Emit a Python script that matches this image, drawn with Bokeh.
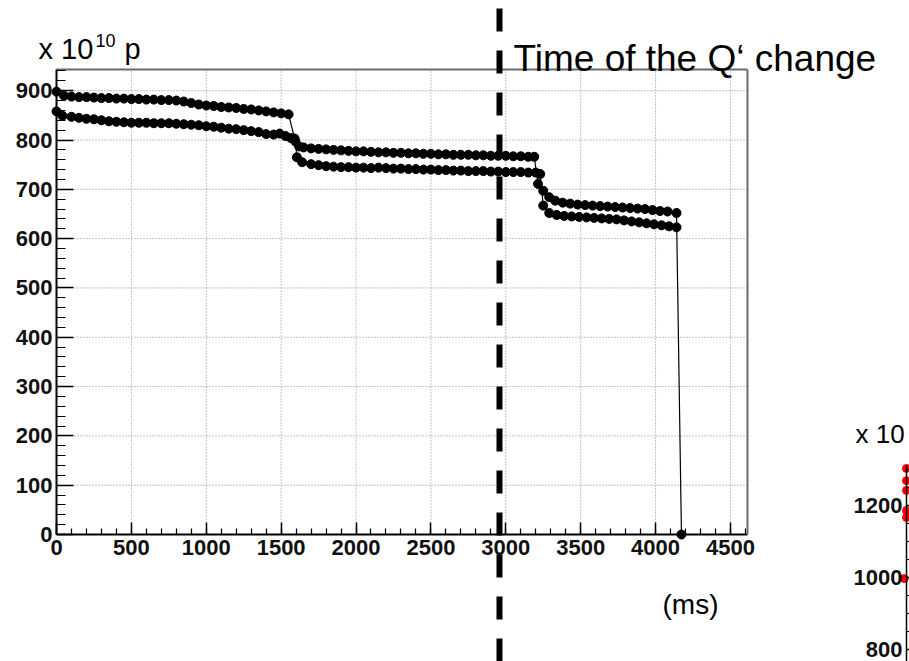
from bokeh.plotting import figure
from bokeh.models import (LinearAxis, Range1d, Label, FixedTicker,
                          SingleIntervalTicker, Span)
from bokeh.embed import file_html
from bokeh.resources import INLINE

# ---------------- data ----------------
t_upper = [0, 50, 100, 150, 200, 250, 300, 350, 400, 450, 500, 550, 600, 650, 700,
           750, 800, 850, 900, 950, 1000, 1050, 1100, 1150, 1200, 1250, 1300, 1350,
           1400, 1450, 1500, 1550, 1590, 1620, 1650, 1700, 1750, 1800, 1850, 1900,
           1950, 2000, 2050, 2100, 2150, 2200, 2250, 2300, 2350, 2400, 2450, 2500,
           2550, 2600, 2650, 2700, 2750, 2800, 2850, 2900, 2950, 3000, 3050, 3100,
           3150, 3190, 3215, 3250, 3290, 3330, 3380, 3430, 3480, 3530, 3580, 3630,
           3680, 3730, 3780, 3830, 3880, 3930, 3980, 4030, 4080, 4140, 4173]
n_upper = [898, 890, 888, 887, 887, 886, 885, 885, 884, 884, 883, 883, 882, 882, 881,
           881, 880, 878, 875, 872, 870, 869, 867, 866, 865, 863, 862, 860,
           858, 856, 854, 852, 803, 787, 785, 783, 782, 781, 780, 779,
           778, 777, 777, 776, 775, 775, 774, 774, 773, 773, 772, 772,
           771, 771, 770, 770, 770, 769, 769, 768, 768, 768, 767, 767,
           766, 766, 711, 697, 684, 677, 673, 671, 669, 668, 667, 666,
           665, 664, 663, 662, 661, 660, 658, 656, 655, 652, 0]

t_lower = [0, 40, 100, 150, 200, 250, 300, 350, 400, 450, 500, 550, 600, 650, 700,
           750, 800, 850, 900, 950, 1000, 1050, 1100, 1150, 1200, 1250, 1300, 1350,
           1400, 1450, 1490, 1530, 1565, 1595, 1605, 1640, 1700, 1750, 1800, 1850,
           1900, 1950, 2000, 2050, 2100, 2150, 2200, 2250, 2300, 2350, 2400, 2450,
           2500, 2550, 2600, 2650, 2700, 2750, 2800, 2850, 2900, 2950, 3000, 3050,
           3100, 3150, 3200, 3230, 3250, 3290, 3340, 3390, 3440, 3490, 3540, 3590,
           3640, 3690, 3740, 3790, 3840, 3890, 3940, 3990, 4040, 4090, 4140]
n_lower = [858, 849, 847, 845, 843, 842, 840, 838, 837, 836, 835, 835, 835, 834, 834,
           834, 833, 832, 831, 830, 828, 827, 825, 823, 822, 820, 818, 816,
           812, 811, 813, 808, 804, 797, 765, 755, 751, 749, 747, 746,
           745, 745, 744, 744, 743, 744, 743, 742, 742, 741, 741, 740,
           740, 739, 739, 738, 738, 737, 737, 737, 736, 736, 735, 735,
           735, 734, 734, 731, 667, 652, 648, 646, 645, 644, 643, 642,
           641, 640, 639, 637, 635, 633, 631, 629, 627, 625, 623]

x_tick_values = [0, 500, 1000, 1500, 2000, 2500, 3000, 3500, 4000, 4500]
y_tick_values = [0, 100, 200, 300, 400, 500, 600, 700, 800, 900]
q_change_time = 2958          # ms, time of the Q' change

# second (cut-off) chart on the right
t_red = [0, 0, 0, 0, 0, -15]
n_red = [1303, 1269, 1242, 1186, 1167, 997]

# axis limits of the ROOT frame
X_MAX = 4614
Y_MAX = 943

# ---------------- layout (pixels) ----------------
W, H = 909, 661
FL, FR, FT, FB = 56, 747, 69, 534      # ROOT frame edges on the page
sx = X_MAX / (FR - FL)
sy = Y_MAX / (FB - FT)


def dx(px):
    return (px - FL) * sx


def dy(py):
    return (FB - py) * sy


AX2_PX = 906                # left axis of the second chart
s2 = 400 / (649 - 505)      # 1200 at 505 px, 800 at 649 px


def dx2(px):
    return (px - AX2_PX) * sx


def dy2(py):
    return 800 + (649 - py) * s2


FONT = "Liberation Sans"

p = figure(width=W, height=H, output_backend="svg", toolbar_location=None, tools="",
           x_axis_type=None, y_axis_type=None,
           x_range=Range1d(dx(0), dx(W)), y_range=Range1d(dy(H), dy(0)),
           min_border=0, outline_line_color=None, background_fill_color="white",
           border_fill_color="white")
p.extra_x_ranges = {"x2": Range1d(dx2(0), dx2(W))}
p.extra_y_ranges = {"y2": Range1d(dy2(H), dy2(0))}

# dotted grid at the major ticks
gx = [v for v in x_tick_values if v > 0]
gy = [v for v in y_tick_values if v > 0]
p.segment(x0=gx, y0=[0] * len(gx), x1=gx, y1=[Y_MAX] * len(gx),
          line_color="#8a8a8a", line_width=1, line_dash="1 2")
p.segment(x0=[0] * len(gy), y0=gy, x1=[X_MAX] * len(gy), y1=gy,
          line_color="#8a8a8a", line_width=1, line_dash="1 2")


def style(ax, major_in, minor_in, size="22px"):
    ax.axis_line_color = "black"
    ax.axis_line_width = 2
    ax.major_tick_in = major_in
    ax.major_tick_out = 0
    ax.minor_tick_in = minor_in
    ax.minor_tick_out = 0
    ax.major_tick_line_color = "black"
    ax.major_tick_line_width = 1.5
    ax.minor_tick_line_color = "black"
    ax.minor_tick_line_width = 1.2
    ax.major_label_text_font = FONT
    ax.major_label_text_font_style = "bold"
    ax.major_label_text_font_size = size
    ax.major_label_text_color = "#111111"


xaxis = LinearAxis(fixed_location=0, bounds=(0, X_MAX),
                   ticker=SingleIntervalTicker(interval=500, num_minor_ticks=5))
style(xaxis, 12, 6)
xaxis.major_label_standoff = 5
p.add_layout(xaxis, "below")

yaxis = LinearAxis(fixed_location=0, bounds=(0, Y_MAX),
                   ticker=SingleIntervalTicker(interval=100, num_minor_ticks=5))
style(yaxis, 17, 9)
yaxis.major_label_standoff = 4
p.add_layout(yaxis, "left")

top = LinearAxis(fixed_location=Y_MAX, bounds=(0, X_MAX),
                 ticker=FixedTicker(ticks=[], minor_ticks=[]))
top.axis_line_color = "#6a6a6a"
top.axis_line_width = 2
top.major_label_text_font_size = "0px"
p.add_layout(top, "above")

right = LinearAxis(fixed_location=X_MAX, bounds=(0, Y_MAX),
                   ticker=FixedTicker(ticks=[], minor_ticks=[]))
right.axis_line_color = "#6a6a6a"
right.axis_line_width = 2
right.major_label_text_font_size = "0px"
p.add_layout(right, "right")

# second chart's axis
axis2 = LinearAxis(x_range_name="x2", y_range_name="y2", fixed_location=0,
                   bounds=(600, 1310),
                   ticker=SingleIntervalTicker(interval=200, num_minor_ticks=4))
style(axis2, 14, 7)
axis2.axis_line_width = 1.5
axis2.major_label_standoff = 4
p.add_layout(axis2, "left")

# series
for t, n in ((t_upper, n_upper), (t_lower, n_lower)):
    p.line(t, n, line_color="black", line_width=1.2)
    p.scatter(t, n, size=9, fill_color="black", line_color="black")

p.scatter(t_red, n_red, x_range_name="x2", y_range_name="y2", size=8,
          fill_color="red", line_color="red")

# time of the Q' change
p.add_layout(Span(location=q_change_time, dimension="height", line_color="black",
                  line_width=6, line_dash="23 19", line_dash_offset=34))

# texts
def lab(px, py, text, size, **kw):
    p.add_layout(Label(x=dx(px), y=dy(py), text=text, text_font=FONT,
                       text_font_size=size, text_color="black",
                       text_baseline="alphabetic", **kw))


lab(38, 48, "x 10", "29px")
lab(95, 40, "10", "18px")
lab(124, 48, "p", "29px")
lab(513, 58, "Time of the Q\u2018 change", "37px")
lab(662, 604, "(ms)", "28px")
lab(855, 433, "x 10", "26px")

open("out.html", "w").write(file_html(p, INLINE))
